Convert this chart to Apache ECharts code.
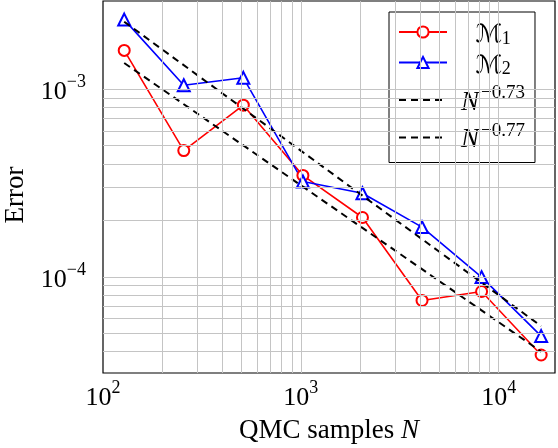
<!DOCTYPE html>
<html>
<head>
<meta charset="utf-8">
<script src="https://cdn.jsdelivr.net/npm/echarts@6/dist/echarts.min.js"></script>
<style>
html,body{margin:0;padding:0;background:#fff;}
#chart{width:558px;height:448px;}
</style>
</head>
<body>
<div id="chart"></div>
<script>
// ---- data ----
const samplesN = [128, 256, 512, 1024, 2048, 4096, 8192, 16384];
const errorM1 = [1.61e-3, 4.71e-4, 8.22e-4, 3.47e-4, 2.07e-4, 7.48e-5, 8.35e-5, 3.83e-5];
const errorM2 = [2.35e-3, 1.05e-3, 1.15e-3, 3.22e-4, 2.79e-4, 1.84e-4, 9.96e-5, 4.83e-5];
const refN = [128, 16384];
const ref073 = [1.38e-3, 3.99e-5];
const ref077 = [2.29e-3, 5.46e-5];
const xGridValues = [200, 300, 400, 500, 600, 700, 800, 900, 1000, 2000, 3000, 4000, 5000, 6000, 7000, 8000, 9000, 10000];
const yGridValues = [4e-5, 5e-5, 6e-5, 7e-5, 8e-5, 9e-5, 1e-4, 2e-4, 3e-4, 4e-4, 5e-4, 6e-4, 7e-4, 8e-4, 9e-4, 1e-3];
const xRange = [100, 19250];
const yRange = [3.07e-5, 2.953e-3];

const serif = "'Liberation Serif', 'DejaVu Serif', serif";
const pair = (xs, ys) => xs.map((x, i) => [x, ys[i]]);

function powLabel(v) {
  const e = Math.log10(v);
  const r = Math.round(e);
  if (Math.abs(e - r) > 1e-6) return '';
  const exp = (r < 0 ? '\u2212' : '') + Math.abs(r);
  return '{b|10}{s|' + exp + '}';
}
const tickRich = {
  b: {fontFamily: serif, fontSize: 26, lineHeight: 32, verticalAlign: 'bottom', color: '#000'},
  s: {fontFamily: serif, fontSize: 18, lineHeight: 14, verticalAlign: 'top', color: '#000'}
};

const gridLineData = xGridValues.map(v => [{coord: [v, yRange[0]]}, {coord: [v, yRange[1]]}])
  .concat(yGridValues.map(v => [{coord: [xRange[0], v]}, {coord: [xRange[1], v]}]));

const hiddenSymbol = {opacity: 0, color: 'transparent', borderColor: 'transparent', borderWidth: 0};

const chart = echarts.init(document.getElementById('chart'), null, {renderer: 'canvas'});
chart.setOption({
  animation: false,
  backgroundColor: '#fff',
  grid: {left: 103, top: 1, right: 3, bottom: 75, containLabel: false, outerBoundsMode: 'none',
    show: true, borderColor: '#000', borderWidth: 1.2, backgroundColor: '#fff'},
  xAxis: {
    type: 'log', logBase: 10, min: xRange[0], max: xRange[1],
    axisLine: {show: false}, axisTick: {show: false}, splitLine: {show: false},
    axisLabel: {formatter: powLabel, margin: 6, rich: tickRich, showMinLabel: true, showMaxLabel: true, hideOverlap: false},
    name: 'QMC samples {i|N}', nameLocation: 'middle', nameGap: 44, nameMoveOverlap: false,
    nameTextStyle: {fontFamily: serif, fontSize: 27, color: '#000',
      rich: {i: {fontFamily: serif, fontSize: 27, fontStyle: 'italic', color: '#000'}}}
  },
  yAxis: {
    type: 'log', logBase: 10, min: yRange[0], max: yRange[1],
    axisLine: {show: false}, axisTick: {show: false}, splitLine: {show: false},
    axisLabel: {formatter: powLabel, margin: 17, rich: tickRich, hideOverlap: false},
    name: 'Error', nameLocation: 'middle', nameGap: 74, nameRotate: 90, nameMoveOverlap: false,
    nameTextStyle: {fontFamily: serif, fontSize: 27, color: '#000', padding: [0, 16, 0, 0]}
  },
  legend: {
    orient: 'vertical', left: 389, top: 12,
    padding: [11, 10, 9, 9], itemGap: 5.5, itemWidth: 48, itemHeight: 14,
    borderColor: '#000', borderWidth: 1, borderRadius: 0, backgroundColor: '#fff',
    data: [{name: 'M1'}, {name: 'M2'}, {name: 'N073', itemStyle: hiddenSymbol}, {name: 'N077', itemStyle: hiddenSymbol}],
    formatter: function (name) {
      if (name === 'M1') return '{m|\u2133}{sub|1}';
      if (name === 'M2') return '{m|\u2133}{sub|2}';
      if (name === 'N073') return '{n|N}{sup|\u22120.73}';
      return '{n|N}{sup|\u22120.77}';
    },
    textStyle: {
      width: 82, color: '#000', fontFamily: serif, fontSize: 25,
      rich: {
        m: {fontFamily: "'DejaVu Serif','DejaVu Sans', serif", fontStyle: 'italic', fontSize: 25, lineHeight: 32, verticalAlign: 'bottom', align: 'center', color: '#000'},
        sub: {fontFamily: serif, fontSize: 18, lineHeight: 26, verticalAlign: 'bottom', align: 'center', color: '#000'},
        n: {fontFamily: serif, fontStyle: 'italic', fontSize: 27, lineHeight: 32, verticalAlign: 'bottom', align: 'center', padding: [0, 2, 0, 0], color: '#000'},
        sup: {fontFamily: serif, fontSize: 19, lineHeight: 14, verticalAlign: 'top', align: 'center', color: '#000'}
      }
    }
  },
  series: [
    {
      name: 'grid', type: 'line', data: [], z: 1, silent: true,
      markLine: {
        silent: true, symbol: ['none', 'none'], label: {show: false}, animation: false,
        lineStyle: {color: '#c4c4c4', width: 1, type: 'solid'},
        emphasis: {disabled: true},
        data: gridLineData
      }
    },
    {
      name: 'M1', type: 'line', data: pair(samplesN, errorM1), z: 3,
      symbol: 'emptyCircle', symbolSize: 11,
      lineStyle: {color: '#ff0000', width: 1.6},
      itemStyle: {color: '#ff0000', borderColor: '#ff0000', borderWidth: 1.6}
    },
    {
      name: 'M2', type: 'line', data: pair(samplesN, errorM2), z: 3,
      symbol: 'emptyTriangle', symbolSize: 12,
      lineStyle: {color: '#0000ff', width: 1.6},
      itemStyle: {color: '#0000ff', borderColor: '#0000ff', borderWidth: 1.6}
    },
    {
      name: 'N073', type: 'line', data: pair(refN, ref073), z: 4,
      symbol: 'none', lineStyle: {color: '#000', width: 2, type: [7, 5]},
      itemStyle: {color: '#000'}
    },
    {
      name: 'N077', type: 'line', data: pair(refN, ref077), z: 4,
      symbol: 'none', lineStyle: {color: '#000', width: 2, type: [7, 5]},
      itemStyle: {color: '#000'}
    }
  ]
});
</script>
</body>
</html>
